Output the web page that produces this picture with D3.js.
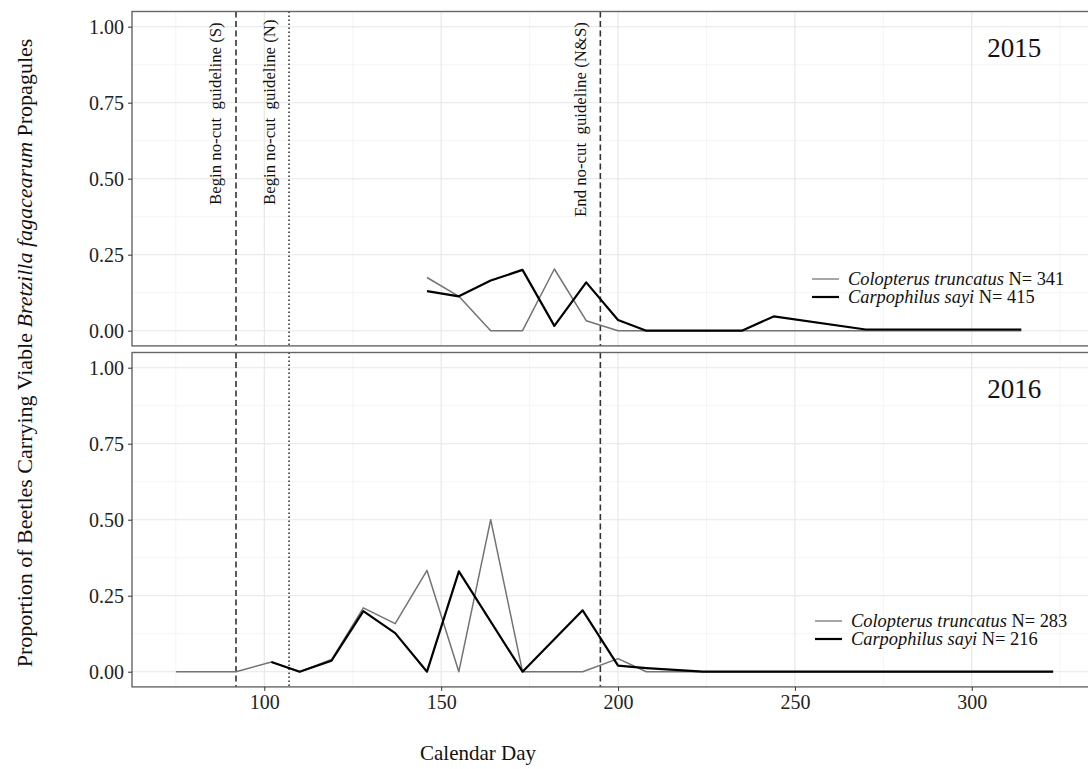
<!doctype html>
<html lang="en">
<head>
<meta charset="utf-8">
<style>
  body { margin: 0; background: #fff; }
  svg { display: block; font-family: "Liberation Serif", "DejaVu Serif", serif; }
  .axis path { display: none; }
  .axis line { stroke: #333; }
  .axis text { font-size: 20px; fill: #222; font-family: "Liberation Serif", serif; }
</style>
</head>
<body>
<div id="grafico"></div>
<script src="https://d3js.org/d3.v7.min.js"></script>
<script>

// 2015 data
var colDays15 = [146, 155, 164, 173, 182, 191, 200, 208, 235, 244, 270, 314];
var colVals15 = [0.175, 0.113, 0, 0, 0.203, 0.033, 0, 0, 0, 0, 0, 0];
var carDays15 = [146, 155, 164, 173, 182, 191, 200, 208, 235, 244, 270, 314];
var carVals15 = [0.13, 0.113, 0.165, 0.2, 0.016, 0.159, 0.035, 0, 0, 0.047, 0.004, 0.004];

// 2016 data
var colDays16 = [75, 92, 102, 110, 119, 128, 137, 146, 155, 164, 173, 190, 200, 208, 224, 323];
var colVals16 = [0, 0, 0.032, 0, 0.04, 0.21, 0.158, 0.333, 0, 0.5, 0, 0, 0.043, 0, 0, 0];
var carDays16 = [102, 110, 119, 128, 137, 146, 155, 173, 190, 200, 208, 224, 323];
var carVals16 = [0.032, 0, 0.036, 0.199, 0.127, 0, 0.33, 0, 0.202, 0.02, 0.012, 0, 0];

var years = ["2015", "2016"];
var legendN = [["341", "415"], ["283", "216"]];
var species = ["Colopterus truncatus", "Carpophilus sayi"];

// guideline days
var guideDays = [92, 107, 195];
var guideLabels = ["Begin no-cut  guideline (S)", "Begin no-cut  guideline (N)", "End no-cut  guideline (N&S)"];
var guideDash = ["6,3.5", "1.5,2.5", "6,3.5"];

var yTicks = [0, 0.25, 0.5, 0.75, 1];
var yMinor = [0.125, 0.375, 0.625, 0.875];
var xTicks = [100, 150, 200, 250, 300];
var xMinor = [75, 125, 175, 225, 275, 325];

var W = 1088, H = 769;
var left = 132, right = 1097;
var panelTops = [11.5, 352.5], panelH = 334.4;

var svg = d3.select("#grafico").append("svg").attr("width", W).attr("height", H);

var x = d3.scaleLinear().domain([62.6, 335.4]).range([left, right]);

var series = [
  [{d: colDays15, v: colVals15}, {d: carDays15, v: carVals15}],
  [{d: colDays16, v: colVals16}, {d: carDays16, v: carVals16}]
];
var lineColor = ["#737373", "#000"];
var lineWidth = [1.5, 2.2];

years.forEach(function(yr, p) {
  var top = panelTops[p];
  var y = d3.scaleLinear().domain([-0.05, 1.05]).range([top + panelH, top]);
  var g = svg.append("g");

  // grid
  g.selectAll("line.ymin").data(yMinor).enter().append("line")
    .attr("x1", left).attr("x2", right).attr("y1", y).attr("y2", y)
    .attr("stroke", "#f3f3f3").attr("stroke-width", 0.8);
  g.selectAll("line.xmin").data(xMinor).enter().append("line")
    .attr("x1", x).attr("x2", x).attr("y1", top).attr("y2", top + panelH)
    .attr("stroke", "#f3f3f3").attr("stroke-width", 0.8);
  g.selectAll("line.ymaj").data(yTicks).enter().append("line")
    .attr("x1", left).attr("x2", right).attr("y1", y).attr("y2", y)
    .attr("stroke", "#e6e6e6").attr("stroke-width", 1.1);
  g.selectAll("line.xmaj").data(xTicks).enter().append("line")
    .attr("x1", x).attr("x2", x).attr("y1", top).attr("y2", top + panelH)
    .attr("stroke", "#e6e6e6").attr("stroke-width", 1.1);

  // guidelines
  g.selectAll("line.guide").data(guideDays).enter().append("line")
    .attr("x1", x).attr("x2", x).attr("y1", top).attr("y2", top + panelH)
    .attr("stroke", "#333").attr("stroke-width", 1.6)
    .attr("stroke-dasharray", function(d, i) { return guideDash[i]; });

  // lines
  series[p].forEach(function(s, k) {
    var pts = s.d.map(function(d, i) { return [d, s.v[i]]; });
    g.append("path").datum(pts)
      .attr("d", d3.line().x(function(d) { return x(d[0]); }).y(function(d) { return y(d[1]); }))
      .attr("fill", "none").attr("stroke", lineColor[k]).attr("stroke-width", lineWidth[k])
      .attr("stroke-linejoin", "round");
  });

  // border
  g.append("rect").attr("x", left).attr("y", top).attr("width", right - left).attr("height", panelH)
    .attr("fill", "none").attr("stroke", "#666").attr("stroke-width", 1.4);

  // y axis
  g.append("g").attr("class", "axis").attr("transform", "translate(" + left + ",0)")
    .call(d3.axisLeft(y).tickValues(yTicks).tickFormat(d3.format(".2f")).tickSize(4).tickPadding(4));

  // year label
  g.append("text").attr("x", x(312)).attr("y", y(0.93)).attr("dy", "0.35em")
    .attr("text-anchor", "middle").style("font-size", "27px").attr("fill", "#111").text(yr);

  // legend
  var lx = p === 0 ? 812 : 815;
  var ly = p === 0 ? [279, 297] : [621, 639];
  species.forEach(function(sp, k) {
    g.append("line").attr("x1", lx).attr("x2", lx + 27).attr("y1", ly[k]).attr("y2", ly[k])
      .attr("stroke", k === 0 ? "#8a8a8a" : "#000").attr("stroke-width", k === 0 ? 1.5 : 2.2);
    var t = g.append("text").attr("x", lx + 36).attr("y", ly[k]).attr("dy", "0.33em")
      .style("font-size", "18.4px").attr("fill", "#111");
    t.append("tspan").style("font-style", "italic").text(sp);
    t.append("tspan").text(" N= " + legendN[p][k]);
  });

  if (p === 0) {
    var lblStart = [205, 205, 217];
    guideDays.forEach(function(d, i) {
      g.append("text")
        .attr("transform", "translate(" + (x(d) - 14.5) + "," + lblStart[i] + ") rotate(-90)")
        .style("font-size", "16.8px").attr("fill", "#111").style("white-space", "pre")
        .attr("xml:space", "preserve").text(guideLabels[i]);
    });
  } else {
    g.append("g").attr("class", "axis").attr("transform", "translate(0," + (top + panelH) + ")")
      .call(d3.axisBottom(x).tickValues(xTicks).tickSize(4).tickPadding(4));
  }
});

// axis titles
var yt = svg.append("text").attr("transform", "translate(32,353) rotate(-90)")
  .attr("text-anchor", "middle").style("font-size", "22px").attr("fill", "#111");
yt.append("tspan").text("Proportion of Beetles Carrying Viable ");
yt.append("tspan").style("font-style", "italic").text("Bretzilla fagacearum");
yt.append("tspan").text(" Propagules");

svg.append("text").attr("x", 478).attr("y", 760).attr("text-anchor", "middle")
  .style("font-size", "21px").attr("fill", "#111").text("Calendar Day");

</script>
</body>
</html>
